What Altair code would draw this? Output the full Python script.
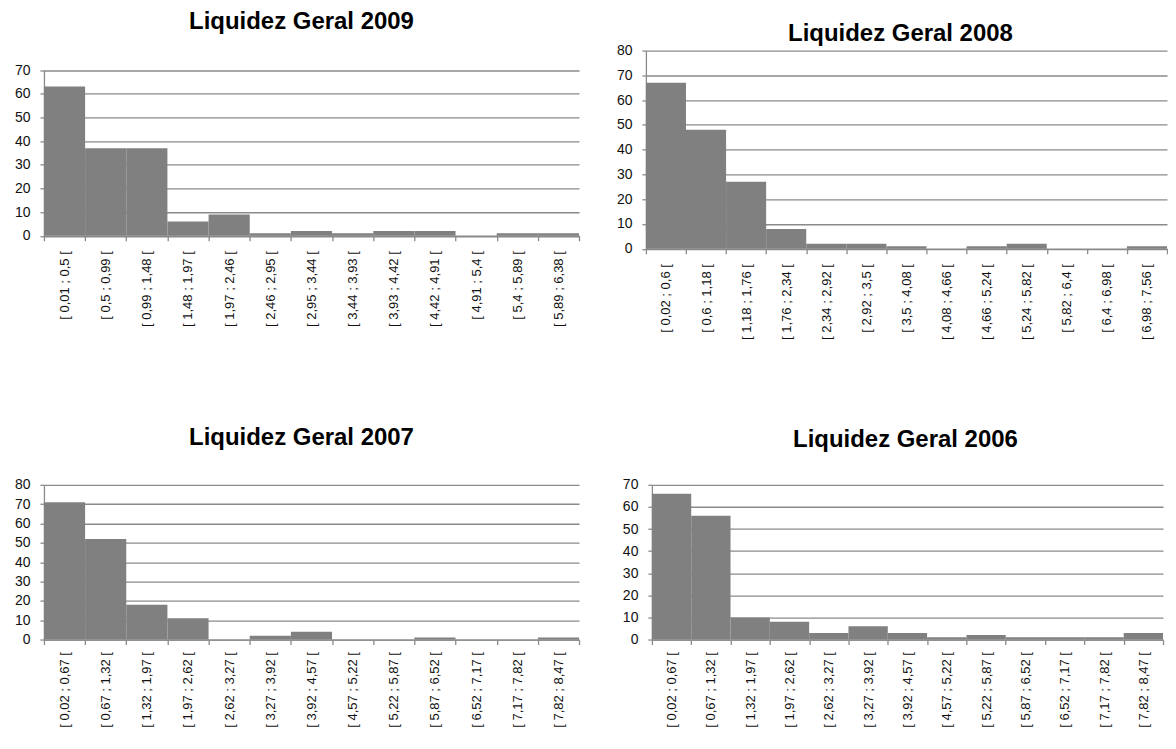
import altair as alt
import pandas as pd

FONT = "Liberation Sans"

cats_2009 = ["[ 0,01 ; 0,5 [", "[ 0,5 ; 0,99 [", "[ 0,99 ; 1,48 [", "[ 1,48 ; 1,97 [",
             "[ 1,97 ; 2,46 [", "[ 2,46 ; 2,95 [", "[ 2,95 ; 3,44 [", "[ 3,44 ; 3,93 [",
             "[ 3,93 ; 4,42 [", "[ 4,42 ; 4,91 [", "[ 4,91 ; 5,4 [", "[ 5,4 ; 5,89 [",
             "[ 5,89 ; 6,38 ["]
vals_2009 = [63, 37, 37, 6, 9, 1, 2, 1, 2, 2, 0, 1, 1]

cats_2008 = ["[ 0,02 ; 0,6 [", "[ 0,6 ; 1,18 [", "[ 1,18 ; 1,76 [", "[ 1,76 ; 2,34 [",
             "[ 2,34 ; 2,92 [", "[ 2,92 ; 3,5 [", "[ 3,5 ; 4,08 [", "[ 4,08 ; 4,66 [",
             "[ 4,66 ; 5,24 [", "[ 5,24 ; 5,82 [", "[ 5,82 ; 6,4 [", "[ 6,4 ; 6,98 [",
             "[ 6,98 ; 7,56 ["]
vals_2008 = [67, 48, 27, 8, 2, 2, 1, 0, 1, 2, 0, 0, 1]

cats_2007 = ["[ 0,02 ; 0,67 [", "[ 0,67 ; 1,32 [", "[ 1,32 ; 1,97 [", "[ 1,97 ; 2,62 [",
             "[ 2,62 ; 3,27 [", "[ 3,27 ; 3,92 [", "[ 3,92 ; 4,57 [", "[ 4,57 ; 5,22 [",
             "[ 5,22 ; 5,87 [", "[ 5,87 ; 6,52 [", "[ 6,52 ; 7,17 [", "[ 7,17 ; 7,82 [",
             "[ 7,82 ; 8,47 ["]
vals_2007 = [71, 52, 18, 11, 0, 2, 4, 0, 0, 1, 0, 0, 1]

cats_2006 = ["[ 0,02 ; 0,67 [", "[ 0,67 ; 1,32 [", "[ 1,32 ; 1,97 [", "[ 1,97 ; 2,62 [",
             "[ 2,62 ; 3,27 [", "[ 3,27 ; 3,92 [", "[ 3,92 ; 4,57 [", "[ 4,57 ; 5,22 [",
             "[ 5,22 ; 5,87 [", "[ 5,87 ; 6,52 [", "[ 6,52 ; 7,17 [", "[ 7,17 ; 7,82 [",
             "[ 7,82 ; 8,47 ["]
vals_2006 = [66, 56, 10, 8, 3, 6, 3, 1, 2, 1, 1, 1, 3]

GRID = "#8a8a8a"
BAR = "#808080"
TXT = "#111111"


def panel(title, cats, vals, ymax, width, height, range_top, t_offset, t_dx, xpad):
    df = pd.DataFrame({"faixa": cats, "n": vals})
    return alt.Chart(
        df,
        title=alt.TitleParams(title, font=FONT, fontSize=24, fontWeight="bold",
                              color="#000000", anchor="middle", frame="group",
                              offset=t_offset, dx=t_dx),
    ).mark_bar(color=BAR).encode(
        x=alt.X("faixa:N", sort=cats, title=None,
                scale=alt.Scale(paddingInner=0, paddingOuter=0),
                axis=alt.Axis(labelAngle=-90, tickBand="extent", grid=False,
                              labelFont=FONT, labelFontSize=13, labelColor=TXT,
                              labelPadding=xpad, tickSize=5, tickColor=GRID,
                              tickWidth=1.3, domainColor=GRID, domainWidth=1.3,
                              labelOverlap=False)),
        y=alt.Y("n:Q", title=None,
                scale=alt.Scale(domain=[0, ymax], range=[height, range_top], nice=False),
                axis=alt.Axis(values=list(range(0, ymax + 1, 10)), grid=True,
                              gridColor=GRID, gridWidth=1.3, labelFont=FONT,
                              labelFontSize=14, labelColor=TXT, labelPadding=10,
                              tickSize=4, tickColor=GRID, tickWidth=1.3,
                              domainColor=GRID, domainWidth=1.3)),
    ).properties(width=width, height=height)


p2009 = panel("Liquidez Geral 2009", cats_2009, vals_2009, 70, 536, 185.5, 19.5, 16.5, -10, 10)
p2008 = panel("Liquidez Geral 2008", cats_2008, vals_2008, 80, 522, 198.5, 0, -2, -6, 10)
p2007 = panel("Liquidez Geral 2007", cats_2007, vals_2007, 80, 536, 155, 0, 28, -10, 7)
p2006 = panel("Liquidez Geral 2006", cats_2006, vals_2006, 70, 512, 155, 0, 26, -2, 7)

row1 = alt.hconcat(p2009, p2008, spacing=36)
row2 = alt.hconcat(p2007, p2006, spacing=42)

chart = alt.vconcat(row1, row2, spacing=86).properties(
    padding={"left": 6, "top": 1, "right": 0, "bottom": 0}
).configure(font=FONT).configure_view(stroke="transparent", strokeWidth=0)

chart.save("out.html", embed_options={"renderer": "svg", "actions": False})
